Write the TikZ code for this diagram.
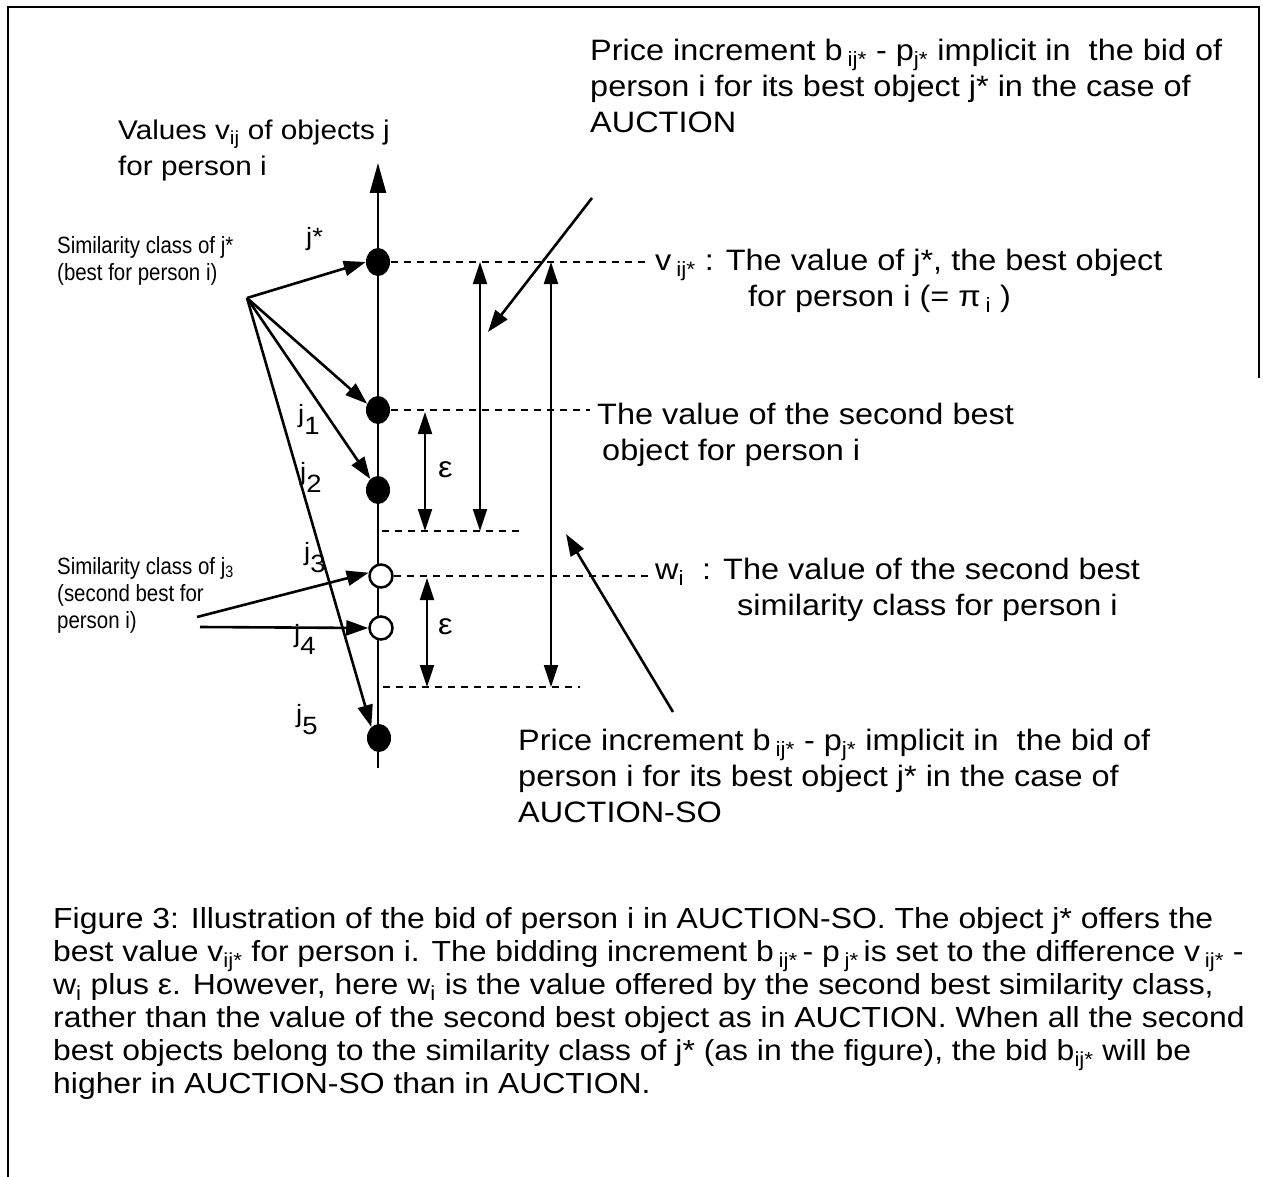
\documentclass[tikz,border=0pt]{standalone}
\usepackage{fontspec}
\setmainfont[FakeStretch=1.1]{Liberation Sans}
\newfontfamily\narrowfont[FakeStretch=0.87]{Liberation Sans}
\usetikzlibrary{arrows.meta,positioning,calc,shapes.geometric}

\newcommand{\sbs}[1]{\textsubscript{#1}}
\newcommand{\jlow}[1]{j\raisebox{-12pt}{#1}}

\tikzset{
  dot/.style={ellipse, fill=black, inner sep=0pt, minimum width=24pt, minimum height=28pt},
  hollow/.style={circle, draw, line width=2.5pt, fill=white, inner sep=0pt, minimum size=23pt},
  level/.style={line width=1.8pt, dash pattern=on 7pt off 6pt},
  ptr/.style={line width=2.6pt, -{Triangle[length=22pt,width=15pt]}},
  span/.style={line width=2.2pt, {Triangle[length=22pt,width=14pt]}-{Triangle[length=22pt,width=14pt]}},
  lbl/.style={font=\fontsize{29.5}{36}\selectfont, align=left, inner sep=0pt, anchor=north west},
  small/.style={font=\narrowfont\fontsize{23.5}{27}\selectfont, align=left, inner sep=0pt, anchor=north west},
  jlab/.style={font=\fontsize{25}{30}\selectfont, inner sep=0pt, anchor=base west},
}

\begin{document}
\begin{tikzpicture}[x=1pt,y=-1pt]
\useasboundingbox (0,0) rectangle (1263,1177);
% frame
\draw[line width=2.5pt] (8,1177) -- (8,7) -- (1259,7) -- (1259,378);

% value axis
\coordinate (axbot) at (378,768);
\coordinate (axtop) at (378,163);
\draw[line width=2.5pt, -{Triangle[length=30pt,width=16pt]}] (axbot) -- (axtop);

% levels
\coordinate (lvstar) at (645,262);
\coordinate (lvone) at (590,410);
\coordinate (lvmid) at (520,531);
\coordinate (lvmidL) at (382,531);
\coordinate (lvthree) at (648,576);
\coordinate (lvlow) at (580,687);
\coordinate (lvlowL) at (383,687);
\draw[level] (378,262) -- (lvstar);
\draw[level] (378,410) -- (lvone);
\draw[level] (lvmidL) -- (lvmid);
\draw[level] (381,576) -- (lvthree);
\draw[level] (lvlowL) -- (lvlow);

% objects
\node[dot] (jstar) at (378,262) {};
\node[dot] (jone) at (378,410) {};
\node[dot] (jtwo) at (378,490) {};
\node[hollow] (jthree) at (381,576) {};
\node[hollow] (jfour) at (381,628) {};
\node[dot] (jfive) at (379,738) {};

\node[jlab] (ljstar) at (306,245) {j*};
\node[jlab] (ljone) at (298,422) {\jlow{1}};
\node[jlab] (ljtwo) at (300,480) {\jlow{2}};
\node[jlab] (ljthree) at (304,560) {\jlow{3}};
\node[jlab] (ljfour) at (294,642) {\jlow{4}};
\node[jlab] (ljfive) at (296,722) {\jlow{5}};

% increments
\coordinate (epsAtop) at (425,412);
\coordinate (epsAbot) at (425,531);
\coordinate (epsBtop) at (427,578);
\coordinate (epsBbot) at (427,687);
\coordinate (incAtop) at (480,262);
\coordinate (incAbot) at (480,531);
\coordinate (incBtop) at (551,262);
\coordinate (incBbot) at (551,687);
\draw[span] (epsAtop) -- (epsAbot);
\draw[span] (epsBtop) -- (epsBbot);
\draw[span] (incAtop) -- (incAbot);
\draw[span] (incBtop) -- (incBbot);
\node[lbl, anchor=west] (epsA) at (438,470) {ε};
\node[lbl, anchor=west] (epsB) at (438,627) {ε};

% texts
\node[lbl, font=\fontsize{27}{36}\selectfont] (valtitle) at (118,120) {Values v\sbs{ij} of objects j\\for person i};
\node[lbl] (bidA) at (590,39) {Price increment b\,\sbs{ij*} - p\sbs{j*} implicit in\ \ the bid of\\person i for its best object j* in the case of\\AUCTION};
\node[lbl] (bidSO) at (518,729) {Price increment b\,\sbs{ij*} - p\sbs{j*} implicit in\ \ the bid of\\person i for its best object j* in the case of\\AUCTION-SO};
\node[lbl] (vbest) at (655,249) {v\,\sbs{ij*} : The value of j*, the best object\\\hspace{93pt}for person i (= π\,\sbs{i} )};
\node[lbl] (secobj) at (597,403) {The value of the second best\\\hspace{5pt}object for person i};
\node[lbl] (wsec) at (655,558) {w\sbs{i}\ \ : The value of the second best\\\hspace{82pt}similarity class for person i};
\node[small] (simbest) at (57,236) {Similarity class of j*\\(best for person i)};
\node[small] (simsec) at (57,557) {Similarity class of j\sbs{3}\\(second best for\\person i)};

% pointers
\coordinate (bidAtail) at (592,198);
\coordinate (bidAtip) at (488,332);
\coordinate (bidSOtail) at (673,712);
\coordinate (bidSOtip) at (566,534);
\draw[ptr] (bidAtail) -- (bidAtip);
\draw[ptr] (bidSOtail) -- (bidSOtip);
\coordinate (fanA) at (247,298);
\draw[ptr] (fanA) -- (jstar.west);
\draw[ptr] (fanA) -- (jone.150);
\draw[ptr] (fanA) -- (jtwo.125);
\draw[ptr] (fanA) -- (jfive.125);
\coordinate (fanB) at (197,617);
\coordinate (fanC) at (200,627);
\draw[ptr] (fanB) -- (jthree.165);
\draw[ptr] (fanC) -- (jfour.west);

% caption
\node[font=\fontsize{29}{33}\selectfont, align=left, inner sep=0pt, anchor=north west] (capt) at (53,907)
{Figure 3: Illustration of the bid of person i in AUCTION-SO. The object j* offers the\\
best value v\sbs{ij*} for person i. The bidding increment b\,\sbs{ij*}\,- p\,\sbs{j*}\,is set to the difference v\,\sbs{ij*} -\\
w\sbs{i} plus ε. However, here w\sbs{i} is the value offered by the second best similarity class,\\
rather than the value of the second best object as in AUCTION. When all the second\\
best objects belong to the similarity class of j* (as in the figure), the bid b\sbs{ij*} will be\\
higher in AUCTION-SO than in AUCTION.};
\end{tikzpicture}
\end{document}
